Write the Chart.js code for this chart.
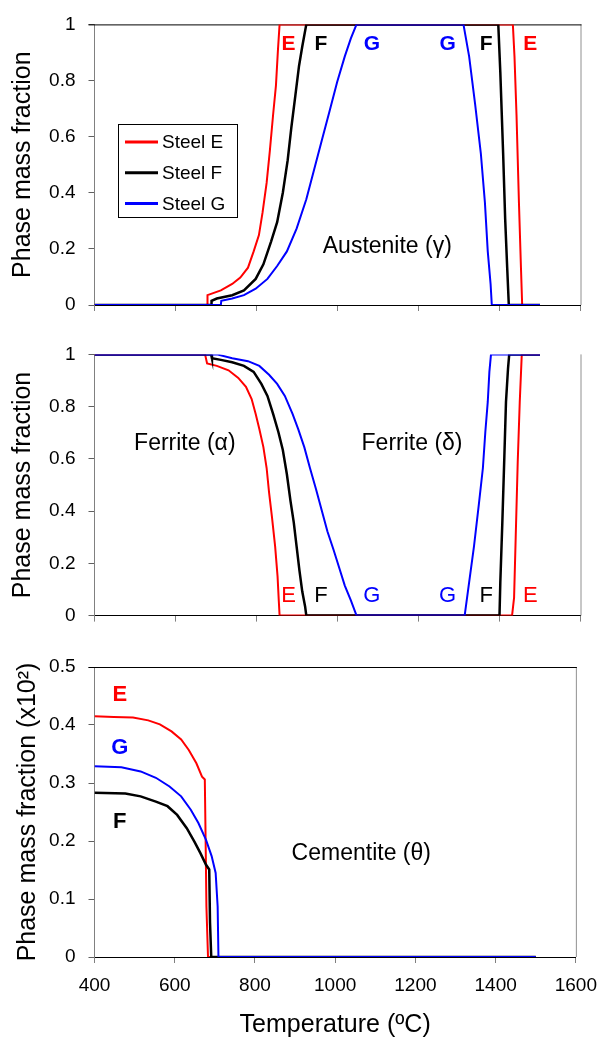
<!DOCTYPE html>
<html>
<head>
<meta charset="utf-8">
<script src="https://cdn.jsdelivr.net/npm/chart.js@4.4.1/dist/chart.umd.min.js"></script>
<style>
body { margin:0; background:#fff; width:608px; height:1042px; position:relative; overflow:hidden; }
canvas { position:absolute; left:0; }
</style>
</head>
<body>
<canvas id="c1" width="608" height="330" style="top:0px"></canvas>
<canvas id="c2" width="608" height="310" style="top:330px"></canvas>
<canvas id="c3" width="608" height="402" style="top:640px"></canvas>
<script>
// austenite (top panel)
var austTempE = [400, 678, 679, 712, 740, 760, 779, 793, 806, 815, 825, 833, 841, 848, 853, 857, 1433, 1437, 1442, 1448, 1453, 1456, 1500];
var austFracE = [0, 0, 0.035, 0.052, 0.075, 0.098, 0.133, 0.191, 0.249, 0.33, 0.435, 0.55, 0.678, 0.782, 0.91, 1, 1, 0.886, 0.678, 0.365, 0.133, 0, 0];
var austTempF = [400, 688, 689, 702, 740, 769, 798, 817, 836, 851, 865, 877, 886, 896, 905, 913, 923, 1397, 1402, 1409, 1414, 1419, 1423, 1500];
var austFracF = [0, 0, 0.015, 0.023, 0.035, 0.052, 0.093, 0.145, 0.226, 0.295, 0.4, 0.516, 0.632, 0.747, 0.852, 0.921, 1, 1, 0.83, 0.539, 0.307, 0.133, 0, 0];
var austTempG = [400, 712, 713, 740, 769, 798, 827, 851, 875, 899, 923, 942, 961, 980, 999, 1018, 1033, 1047, 1311, 1325, 1340, 1354, 1364, 1371, 1378, 1381, 1500];
var austFracG = [0, 0, 0.015, 0.023, 0.035, 0.058, 0.093, 0.139, 0.191, 0.272, 0.377, 0.481, 0.585, 0.689, 0.794, 0.886, 0.95, 1, 1, 0.886, 0.713, 0.539, 0.365, 0.191, 0.075, 0, 0];

// ferrite (middle panel)
var ferrTempE = [400, 673, 678, 702, 731, 755, 774, 788, 798, 807, 817, 825, 831, 838, 846, 852, 855, 857, 1431, 1436, 1440, 1445, 1450, 1455, 1500];
var ferrFracE = [1, 1, 0.965, 0.956, 0.939, 0.91, 0.876, 0.829, 0.772, 0.714, 0.645, 0.565, 0.472, 0.38, 0.265, 0.15, 0.058, 0, 0, 0.069, 0.3, 0.588, 0.818, 1, 1];
var ferrTempF = [400, 688, 690, 712, 740, 769, 793, 812, 827, 841, 854, 865, 875, 884, 892, 899, 906, 913, 920, 923, 1400, 1402, 1407, 1412, 1416, 1421, 1424, 1500];
var ferrFracF = [1, 1, 0.985, 0.979, 0.97, 0.956, 0.933, 0.887, 0.841, 0.772, 0.703, 0.634, 0.541, 0.438, 0.357, 0.265, 0.173, 0.092, 0.035, 0, 0, 0.127, 0.357, 0.61, 0.818, 0.945, 1, 1];
var ferrTempG = [400, 702, 740, 779, 807, 831, 851, 870, 889, 903, 918, 932, 947, 961, 975, 990, 1004, 1018, 1033, 1047, 1314, 1325, 1337, 1349, 1359, 1365, 1371, 1375, 1379, 1500];
var ferrFracG = [1, 1, 0.985, 0.974, 0.956, 0.922, 0.887, 0.841, 0.772, 0.714, 0.645, 0.565, 0.484, 0.403, 0.323, 0.253, 0.184, 0.115, 0.058, 0, 0, 0.127, 0.265, 0.426, 0.565, 0.703, 0.818, 0.933, 1, 1];

// cementite (bottom panel), x10^2
var cemTempE = [400, 448, 496, 534, 563, 592, 616, 635, 654, 668, 675, 677, 679, 683, 1500];
var cemFracE = [0.415, 0.414, 0.413, 0.408, 0.401, 0.389, 0.375, 0.357, 0.334, 0.311, 0.306, 0.202, 0.087, 0, 0];
var cemTempF = [400, 477, 515, 553, 582, 606, 630, 649, 664, 678, 686, 688, 691, 1500];
var cemFracF = [0.283, 0.282, 0.277, 0.268, 0.26, 0.245, 0.222, 0.199, 0.179, 0.159, 0.151, 0.059, 0, 0];
var cemTempG = [400, 467, 515, 553, 587, 616, 640, 659, 678, 692, 702, 707, 709, 1500];
var cemFracG = [0.329, 0.327, 0.32, 0.309, 0.294, 0.277, 0.254, 0.231, 0.202, 0.174, 0.145, 0.087, 0, 0];

var steelNames = ['Steel E', 'Steel F', 'Steel G'];
var steelColors = ['#ff0000', '#000000', '#0000ff'];

var FONT = "'Liberation Sans', Arial, sans-serif";

function pts(xs, ys) {
    return xs.map(function(x, i) { return {x: x, y: ys[i]}; });
}

function makeSets(list) {
    return list.map(function(d, i) {
        return {
            label: steelNames[i],
            data: pts(d[0], d[1]),
            borderColor: steelColors[i],
            borderWidth: i == 1 ? 2.5 : 2,
            pointRadius: 0,
            tension: 0,
            fill: false,
            order: 3 - i   // blue drawn last (on top), like the original
        };
    });
}

// draws frame, text labels and (optionally) legend
function panelPlugin(cfg) {
    return {
        id: 'panelExtras',
        beforeDatasetsDraw: function(chart) {
            var a = chart.chartArea, ctx = chart.ctx;
            ctx.save();
            ctx.lineWidth = 1;
            ctx.strokeStyle = '#909090';
            ctx.beginPath();
            ctx.moveTo(a.right + 0.5, a.top);
            ctx.lineTo(a.right + 0.5, a.bottom);
            ctx.stroke();
            if (cfg.topLine) {
                ctx.strokeStyle = '#000';
                ctx.beginPath();
                ctx.moveTo(a.left - 6, a.top + 0.5);
                ctx.lineTo(a.right + 1, a.top + 0.5);
                ctx.stroke();
            }
            ctx.restore();
        },
        afterDatasetsDraw: function(chart) {
            var ctx = chart.ctx, xs = chart.scales.x, ys = chart.scales.y;
            ctx.save();
            ctx.textAlign = 'center';
            ctx.textBaseline = 'middle';
            cfg.labels.forEach(function(l) {
                ctx.font = l.font;
                ctx.fillStyle = l.color;
                ctx.fillText(l.text, xs.getPixelForValue(l.x), ys.getPixelForValue(l.y));
            });
            if (cfg.legend) {
                var g = cfg.legend;
                ctx.fillStyle = '#fff';
                ctx.fillRect(g.x, g.y, g.w, g.h);
                ctx.strokeStyle = '#000';
                ctx.lineWidth = 1;
                ctx.strokeRect(g.x + 0.5, g.y + 0.5, g.w, g.h);
                ctx.font = '19px ' + FONT;
                ctx.textAlign = 'left';
                chart.data.datasets.forEach(function(ds, i) {
                    var yy = g.y + 18 + i * 30.8;
                    ctx.strokeStyle = ds.borderColor;
                    ctx.lineWidth = 3;
                    ctx.beginPath();
                    ctx.moveTo(g.x + 7, yy);
                    ctx.lineTo(g.x + 40, yy);
                    ctx.stroke();
                    ctx.fillStyle = '#000';
                    ctx.fillText(ds.label, g.x + 44, yy + 1);
                });
            }
            ctx.restore();
        }
    };
}

function makePanel(id, sets, p) {
    var H = document.getElementById(id).height;
    return new Chart(document.getElementById(id), {
        type: 'line',
        data: { datasets: sets },
        options: {
            responsive: false,
            animation: false,
            layout: { padding: { left: 0, top: p.top, right: 27.5, bottom: 0 } },
            plugins: { legend: { display: false }, tooltip: { enabled: false } },
            scales: {
                x: {
                    type: 'linear',
                    min: 400, max: 1600,
                    ticks: {
                        stepSize: 200,
                        display: p.xLabels,
                        color: '#000',
                        padding: 11,
                        font: { family: FONT, size: 19 },
                        callback: function(v) { return String(v); }
                    },
                    grid: { drawOnChartArea: false, drawTicks: true, tickLength: 6, color: '#808080' },
                    border: { color: '#000', width: 1 },
                    title: {
                        display: !!p.xTitle,
                        text: p.xTitle || '',
                        color: '#000',
                        font: { family: FONT, size: 25 },
                        padding: { top: 0, bottom: 2 }
                    },
                    afterFit: function(s) { s.height = H - p.bottom; }
                },
                y: {
                    min: 0, max: p.ymax,
                    ticks: {
                        stepSize: p.step,
                        color: '#000',
                        padding: 13,
                        font: { family: FONT, size: 19 },
                        callback: function(v) { return String(Math.round(v * 10) / 10); }
                    },
                    grid: { drawOnChartArea: false, drawTicks: true, tickLength: 6, color: '#606060' },
                    border: { color: '#808080', width: 1 },
                    title: {
                        display: true,
                        text: p.yTitle,
                        color: '#000',
                        font: { family: FONT, size: 25 },
                        padding: { top: p.yTitlePad, bottom: 0 }
                    },
                    afterFit: function(s) { s.width = 94.5; }
                }
            }
        },
        plugins: [panelPlugin(p)]
    });
}

var bold = 'bold 21px ' + FONT;
var plain = '22px ' + FONT;
var note = '23px ' + FONT;

makePanel('c1', makeSets([[austTempE, austFracE], [austTempF, austFracF], [austTempG, austFracG]]), {
    top: 17, bottom: 305, ymax: 1, step: 0.2, xLabels: false,
    yTitle: 'Phase mass fraction', yTitlePad: 8, topLine: true,
    legend: { x: 118, y: 124, w: 119, h: 93 },
    labels: [
        { text: 'E', x: 879, y: 0.93, font: bold, color: '#ff0000' },
        { text: 'F', x: 959, y: 0.93, font: bold, color: '#000' },
        { text: 'G', x: 1085, y: 0.93, font: bold, color: '#0000ff' },
        { text: 'G', x: 1272, y: 0.93, font: bold, color: '#0000ff' },
        { text: 'F', x: 1367, y: 0.93, font: bold, color: '#000' },
        { text: 'E', x: 1476, y: 0.93, font: bold, color: '#ff0000' },
        { text: 'Austenite (\u03b3)', x: 1123, y: 0.208, font: note, color: '#000' }
    ]
});

makePanel('c2', makeSets([[ferrTempE, ferrFracE], [ferrTempF, ferrFracF], [ferrTempG, ferrFracG]]), {
    top: 14, bottom: 303, ymax: 1, step: 0.2, xLabels: false,
    yTitle: 'Phase mass fraction', yTitlePad: 8, topLine: false,
    labels: [
        { text: 'E', x: 879, y: 0.074, font: plain, color: '#ff0000' },
        { text: 'F', x: 959, y: 0.074, font: plain, color: '#000' },
        { text: 'G', x: 1085, y: 0.074, font: plain, color: '#0000ff' },
        { text: 'G', x: 1272, y: 0.074, font: plain, color: '#0000ff' },
        { text: 'F', x: 1367, y: 0.074, font: plain, color: '#000' },
        { text: 'E', x: 1476, y: 0.074, font: plain, color: '#ff0000' },
        { text: 'Ferrite (\u03b1)', x: 623, y: 0.657, font: note, color: '#000' },
        { text: 'Ferrite (\u03b4)', x: 1184, y: 0.657, font: note, color: '#000' }
    ]
});

makePanel('c3', makeSets([[cemTempE, cemFracE], [cemTempF, cemFracF], [cemTempG, cemFracG]]), {
    top: 27, bottom: 317, ymax: 0.5, step: 0.1, xLabels: true,
    xTitle: 'Temperature (\u00baC)',
    yTitle: 'Phase mass fraction (x10\u00b2)', yTitlePad: 13, topLine: true,
    labels: [
        { text: 'E', x: 463, y: 0.452, font: 'bold 22px ' + FONT, color: '#ff0000' },
        { text: 'G', x: 463, y: 0.36, font: 'bold 22px ' + FONT, color: '#0000ff' },
        { text: 'F', x: 463, y: 0.233, font: 'bold 22px ' + FONT, color: '#000' },
        { text: 'Cementite (\u03b8)', x: 1065, y: 0.179, font: note, color: '#000' }
    ]
});
</script>
</body>
</html>
